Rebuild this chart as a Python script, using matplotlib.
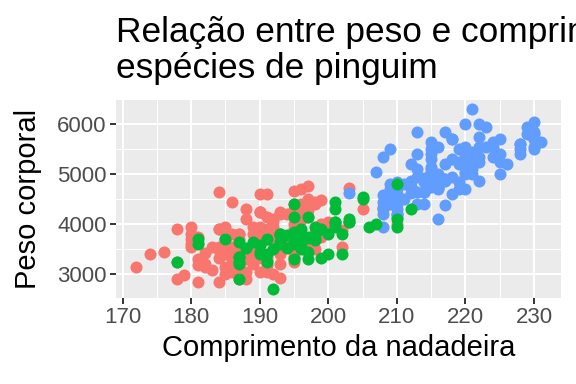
import matplotlib.pyplot as plt
from matplotlib.ticker import MultipleLocator

plt.rcParams["font.family"] = ["Liberation Sans", "DejaVu Sans"]

# flipper length (mm) and body mass (g), per species
adelie_flipper = [
    181, 186, 195, 193, 190, 181, 195, 193, 190, 186, 180, 182, 191, 198, 185, 195, 197, 184, 194,
    174, 180, 189, 185, 180, 187, 183, 187, 172, 180,
    178, 178, 188, 184, 195, 196, 190, 180, 181, 184, 182, 195, 186, 196, 185, 190, 182, 179, 190, 191,
    186, 188, 190, 200, 187, 191, 186, 193, 181, 194, 185, 195, 185, 192, 184, 192,
    195, 188, 190, 198, 190, 190, 196, 197, 190, 195, 191, 184, 187, 195, 189, 196, 187, 193, 191, 194,
    190, 189, 189, 190, 202, 205, 185, 186, 187, 208, 190, 196, 178, 192, 192, 203, 183, 190, 193, 184,
    199, 190, 181, 197, 198, 191, 193, 197, 191, 196, 188, 199, 189, 189, 187, 198, 176, 202, 186, 199,
    191, 195, 191, 210, 190, 197, 193, 199, 187, 190, 191, 200, 185, 193, 193, 187, 188, 190, 192, 185,
    190, 184, 195, 193, 187, 201,
]
adelie_mass = [
    3750, 3800, 3250, 3450, 3650, 3625, 4675, 3475, 4250, 3300, 3700, 3200, 3800, 4400, 3700, 3450, 4500, 3325, 4200,
    3400, 3600, 3800, 3950, 3800, 3800, 3550, 3200, 3150, 3950,
    3250, 3900, 3300, 3900, 3325, 4150, 3950, 3550, 3300, 4650, 3150, 3900, 3100, 4400, 3000, 4600, 3425, 2975, 3450, 4150,
    3500, 4300, 3450, 4050, 2900, 3700, 3550, 3800, 2850, 3750, 3150, 4400, 3600, 4050, 2850, 3950,
    3350, 4100, 3050, 4450, 3600, 3900, 3550, 4150, 3700, 4250, 3700, 3900, 3550, 4000, 3200, 4700, 3800, 4200, 3350, 3550,
    3800, 3500, 3950, 3600, 3550, 4300, 3400, 4450, 3300, 4300, 3700, 4350, 2900, 4100, 3725, 4725, 3075, 4250, 2925, 3550,
    3750, 3900, 3175, 4775, 3825, 4600, 3200, 4275, 3900, 4075, 2900, 3775, 3350, 3325, 3150, 3500, 3450, 3875, 3050, 4000,
    3275, 4300, 3050, 4000, 3325, 3500, 3500, 4475, 3425, 3900, 3175, 3975, 3400, 4250, 3400, 3475, 3050, 3725, 3000, 3650,
    4250, 3475, 3450, 3750, 3700, 4000,
]

gentoo_flipper = [
    211, 230, 210, 218, 215, 210, 211, 219, 209, 215, 214, 216, 214, 213, 210, 217, 210, 221, 209, 222,
    218, 215, 213, 215, 215, 215, 216, 215, 210, 220, 222, 209, 207, 230, 220, 220, 213, 219, 208, 208,
    208, 225, 210, 216, 222, 217, 210, 225, 213, 215, 210, 220, 210, 225, 217, 220, 208, 220, 208, 224,
    208, 221, 214, 231, 219, 230, 214, 229, 220, 223, 216, 221, 221, 217, 216, 230, 209, 220, 215, 223,
    212, 221, 212, 224, 212, 228, 218, 218, 212, 230, 218, 228, 212, 224, 214, 226, 216, 222, 203, 225,
    219, 228, 215, 228, 216, 215, 210, 219, 208, 209, 216, 229, 213, 230, 217, 230, 217, 222, 214, 215,
    222, 212, 213,
]
gentoo_mass = [
    4500, 5700, 4450, 5700, 5400, 4550, 4800, 5200, 4400, 5150, 4650, 5550, 4650, 5850, 4200, 5850, 4150, 6300, 4800, 5350,
    5700, 5000, 4400, 5050, 5000, 5100, 4100, 5650, 4600, 5550, 5250, 4700, 5050, 6050, 5150, 5400, 4950, 5250, 4350, 5350,
    3950, 5700, 4300, 4750, 5550, 4900, 4200, 5400, 5100, 5300, 4850, 5300, 4400, 5000, 4900, 5050, 4300, 5000, 4450, 5550,
    4200, 5300, 4400, 5650, 4700, 5700, 4650, 5800, 4700, 5550, 4750, 5000, 5100, 5200, 4700, 5800, 4600, 6000, 4750, 5950,
    4625, 5450, 4725, 5350, 4750, 5600, 4600, 5300, 4875, 5550, 4950, 5400, 4750, 5650, 4850, 5200, 4925, 4875, 4625, 5250,
    4850, 5600, 4975, 5500, 4725, 5500, 4700, 5500, 4575, 5500, 5000, 5950, 4650, 5500, 4375, 5850, 4875, 6000, 4925, 4850,
    5750, 5200, 5400,
]

chinstrap_flipper = [
    192, 196, 193, 188, 197, 198, 178, 197, 195, 198, 193, 194, 185, 201, 190, 201, 197, 181, 190, 195,
    181, 191, 187, 193, 195, 197, 200, 200, 191, 205, 187, 201, 187, 203, 195, 199, 195, 210, 192, 205,
    210, 187, 196, 196, 196, 201, 190, 212, 187, 198, 199, 201, 193, 203, 187, 197, 191, 203, 202, 194,
    206, 189, 195, 207, 202, 193, 210, 198,
]
chinstrap_mass = [
    3500, 3900, 3650, 3525, 3725, 3950, 3250, 3750, 4150, 3700, 3800, 3775, 3700, 4050, 3575, 4050, 3300, 3700, 3450, 4400,
    3600, 3400, 2900, 3800, 3300, 4150, 3400, 3800, 3700, 4550, 3200, 4300, 3350, 4100, 3600, 3900, 3850, 4800, 2700, 4500,
    3950, 3650, 3550, 3500, 3675, 4450, 3400, 4300, 3250, 3675, 3325, 3950, 3600, 4050, 3350, 3450, 3250, 4050, 3800, 3525,
    3950, 3650, 3650, 4000, 3400, 3775, 4100, 3775,
]

fig = plt.figure(figsize=(5.76, 3.84), dpi=100)
ax = fig.add_axes([0.2014, 0.2240, 0.7726, 0.5143])
ax.set_facecolor("#EBEBEB")

# same draw order as the data: Adelie, Gentoo, Chinstrap
ax.scatter(adelie_flipper, adelie_mass, s=75, color="#F8766D", linewidths=0, zorder=3)
ax.scatter(gentoo_flipper, gentoo_mass, s=75, color="#619CFF", linewidths=0, zorder=3)
ax.scatter(chinstrap_flipper, chinstrap_mass, s=75, color="#00BA38", linewidths=0, zorder=3)

ax.set_xlim(169.05, 233.95)
ax.set_ylim(2520, 6480)
ax.xaxis.set_major_locator(MultipleLocator(10))
ax.xaxis.set_minor_locator(MultipleLocator(5))
ax.yaxis.set_major_locator(MultipleLocator(1000))
ax.yaxis.set_minor_locator(MultipleLocator(500))
ax.grid(which="major", color="white", lw=1.5)
ax.grid(which="minor", color="white", lw=0.75)
ax.set_axisbelow(True)
for s in ax.spines.values():
    s.set_visible(False)
ax.tick_params(which="major", length=4.3, width=1.4, color="#333333",
               labelsize=16, labelcolor="#4D4D4D", pad=2.5)
ax.tick_params(which="minor", length=0)

ax.set_xlabel("Comprimento da nadadeira", fontsize=21, labelpad=4)
ax.set_ylabel("Peso corporal", fontsize=21, labelpad=11)
fig.text(0.2014, 0.958, "Relação entre peso e comprimento da nadadeira nas\nespécies de pinguim",
         fontsize=25.4, ha="left", va="top", linespacing=1.1)

fig.savefig("out.png", dpi=100)
